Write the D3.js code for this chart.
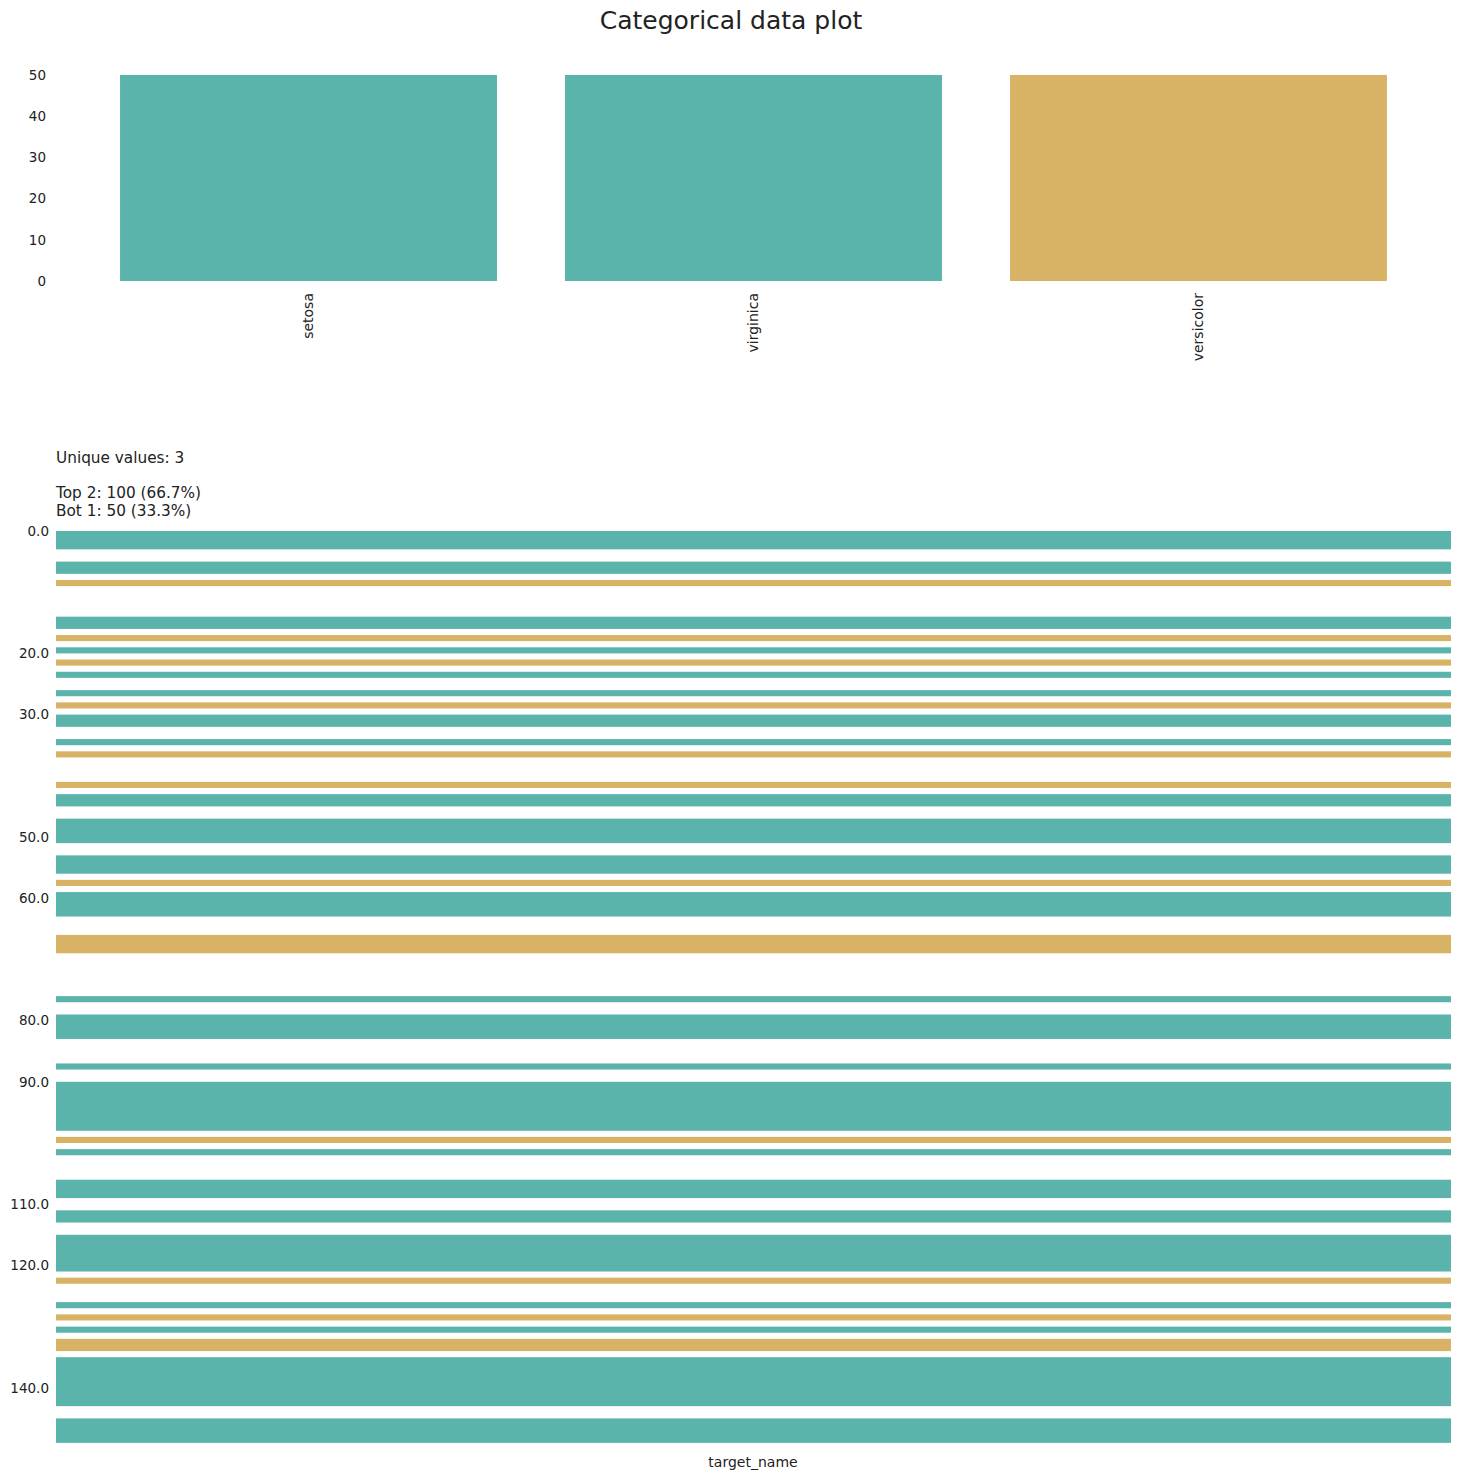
<!DOCTYPE html>
<html>
<head>
<meta charset="utf-8">
<script src="https://d3js.org/d3.v7.min.js"></script>
<style>
  body { margin: 0; background: #fff; }
  svg text { font-family: "DejaVu Sans", sans-serif; fill: #222; }
</style>
</head>
<body>
<svg id="chart" width="1460" height="1480"></svg>
<script>
// bar chart values
const categories = ["setosa", "virginica", "versicolor"];
const counts = [50, 50, 50];
const groups = ["top", "top", "bot"];
const yTicks = [0, 10, 20, 30, 40, 50];

// summary text
const summary = ["Unique values: 3", "", "Top 2: 100 (66.7%)", "Bot 1: 50 (33.3%)"];

// heatmap: one value per row (10 = top, 5 = other, 0 = bottom)
const rowValues = [
  10,10,10,5,5,10,10,5,0,5,
  5,5,5,5,10,10,5,0,5,10,
  5,0,5,10,5,5,10,5,0,5,
  10,10,5,5,10,5,0,5,5,5,
  5,0,5,10,10,5,5,10,10,10,
  10,5,5,10,10,10,5,0,5,10,
  10,10,10,5,5,5,0,0,0,5,
  5,5,5,5,5,5,10,5,5,10,
  10,10,10,5,5,5,5,10,5,5,
  10,10,10,10,10,10,10,10,5,0,
  5,10,5,5,5,5,10,10,10,5,
  5,10,10,5,5,10,10,10,10,10,
  10,5,0,5,5,5,10,5,0,5,
  10,5,0,0,5,10,10,10,10,10,
  10,10,10,5,5,10,10,10,10,5
];
const hmTicks = [0, 20, 30, 50, 60, 80, 90, 110, 120, 140];
const columnName = "target_name";

const colorTop = "#5ab4ac", colorBot = "#d8b365";

const svg = d3.select("#chart");

svg.append("text")
  .attr("x", 731).attr("y", 29)
  .attr("text-anchor", "middle")
  .style("font-size", "25px")
  .text("Categorical data plot");

// --- bar chart
const x = d3.scaleBand().domain(categories).range([86, 1421])
  .paddingInner(0.153).paddingOuter(0.0765);
const y = d3.scaleLinear().domain([0, 50]).range([281, 75]);

svg.append("g").selectAll("rect")
  .data(categories)
  .join("rect")
  .attr("x", d => x(d))
  .attr("width", x.bandwidth())
  .attr("y", (d, i) => y(counts[i]))
  .attr("height", (d, i) => y(0) - y(counts[i]))
  .attr("fill", (d, i) => groups[i] === "top" ? colorTop : colorBot);

const yAxis = svg.append("g")
  .attr("transform", "translate(53,0)")
  .call(d3.axisLeft(y).tickValues(yTicks).tickSize(0).tickPadding(7));
yAxis.select(".domain").remove();
yAxis.selectAll("text").style("font-size", "13.5px").attr("fill", "#222");

const xAxis = svg.append("g")
  .attr("transform", "translate(0,281)")
  .call(d3.axisBottom(x).tickSize(0).tickPadding(0));
xAxis.select(".domain").remove();
xAxis.selectAll("text")
  .style("font-size", "14px").attr("fill", "#222")
  .attr("transform", "rotate(-90)")
  .attr("text-anchor", "end")
  .attr("x", -12).attr("y", 0).attr("dy", "0.35em");

// --- summary text
svg.append("g").selectAll("text")
  .data(summary)
  .join("text")
  .attr("x", 56)
  .attr("y", (d, i) => 463 + i * 17.5)
  .style("font-size", "15.3px")
  .text(d => d);

// --- heatmap
const hy = d3.scaleLinear().domain([0, rowValues.length]).range([531, 1449]);
const hx = d3.scaleLinear().domain([0, 1]).range([56, 1451]);
const color = d3.scaleOrdinal().domain([0, 5, 10]).range([colorBot, "#ffffff", colorTop]);

// white rows first, coloured rows on top so overlaps never show seams
const order = d3.range(rowValues.length).sort((a, b) => (rowValues[a] === 5 ? 0 : 1) - (rowValues[b] === 5 ? 0 : 1));

svg.append("g").selectAll("rect")
  .data(order)
  .join("rect")
  .attr("x", hx(0))
  .attr("width", hx(1) - hx(0))
  .attr("y", i => hy(i))
  .attr("height", i => {
    const next = i + 1 < rowValues.length && rowValues[i + 1] === rowValues[i];
    return hy(i + 1) - hy(i) + (next ? 0.8 : 0);
  })
  .attr("fill", i => color(rowValues[i]));

const hAxis = svg.append("g")
  .attr("transform", "translate(56,0)")
  .call(d3.axisLeft(hy).tickValues(hmTicks).tickFormat(d3.format(".1f")).tickSize(0).tickPadding(7));
hAxis.select(".domain").remove();
hAxis.selectAll("text").style("font-size", "13.5px").attr("fill", "#222");

svg.append("text")
  .attr("x", 753).attr("y", 1467)
  .attr("text-anchor", "middle")
  .style("font-size", "14px")
  .text(columnName);
</script>
</body>
</html>
